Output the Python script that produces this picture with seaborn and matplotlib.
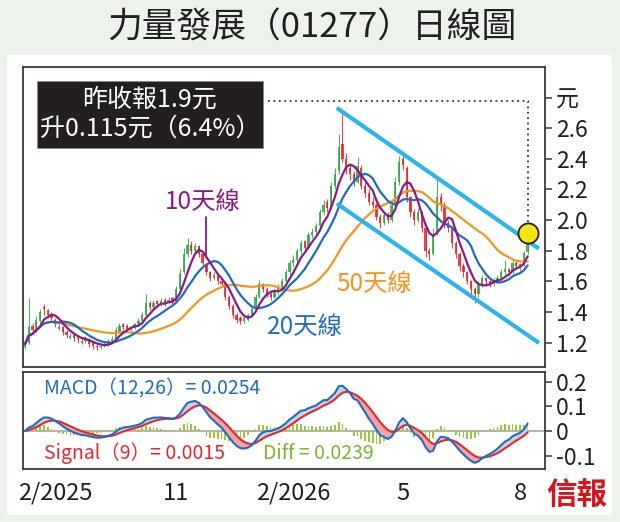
# 力量發展 (01277) daily chart with MA + MACD panel

import numpy as np
import pandas as pd
import matplotlib
matplotlib.use('Agg')
import matplotlib.pyplot as plt
import seaborn as sns
from matplotlib.patches import Rectangle

# price bars (one bar per two sessions)
open_ = [1.17, 1.20, 1.31, 1.28, 1.34, 1.43, 1.41, 1.38, 1.35, 1.29,
         1.30, 1.27, 1.23, 1.25, 1.23, 1.20, 1.21, 1.22, 1.20, 1.18,
         1.17, 1.18, 1.19, 1.21, 1.22, 1.27, 1.32, 1.31, 1.28, 1.30,
         1.32, 1.34, 1.38, 1.46, 1.43, 1.47, 1.45, 1.48, 1.46, 1.49,
         1.47, 1.55, 1.66, 1.78, 1.84, 1.80, 1.83, 1.78, 1.71, 1.66,
         1.62, 1.64, 1.60, 1.58, 1.50, 1.44, 1.38, 1.36, 1.34, 1.35,
         1.38, 1.42, 1.50, 1.58, 1.55, 1.52, 1.50, 1.54, 1.56, 1.60,
         1.66, 1.72, 1.74, 1.80, 1.86, 1.82, 1.90, 1.92, 1.96, 2.05,
         2.12, 2.08, 2.22, 2.32, 2.50, 2.40, 2.34, 2.30, 2.25, 2.34,
         2.22, 2.18, 2.12, 2.10, 2.02, 1.98, 2.03, 2.00, 2.10, 2.25,
         2.40, 2.34, 2.15, 2.05, 2.00, 2.05, 1.95, 1.80, 1.78, 1.92,
         2.15, 2.10, 1.98, 1.95, 1.85, 1.78, 1.70, 1.66, 1.60, 1.55,
         1.52, 1.58, 1.62, 1.60, 1.58, 1.60, 1.62, 1.66, 1.68, 1.66,
         1.72, 1.69, 1.72, 1.79]
high = [1.21, 1.49, 1.33, 1.37, 1.42, 1.45, 1.42, 1.40, 1.36, 1.33,
        1.31, 1.28, 1.26, 1.26, 1.24, 1.23, 1.24, 1.23, 1.21, 1.19,
        1.20, 1.21, 1.22, 1.24, 1.30, 1.33, 1.33, 1.32, 1.31, 1.33,
        1.36, 1.40, 1.52, 1.47, 1.48, 1.48, 1.49, 1.49, 1.50, 1.50,
        1.57, 1.68, 1.82, 1.88, 1.86, 1.85, 1.84, 1.79, 1.72, 1.67,
        1.66, 1.65, 1.61, 1.59, 1.51, 1.45, 1.39, 1.37, 1.38, 1.39,
        1.44, 1.52, 1.61, 1.59, 1.56, 1.53, 1.55, 1.58, 1.62, 1.68,
        1.74, 1.77, 1.82, 1.87, 1.87, 1.92, 1.95, 1.98, 2.07, 2.13,
        2.14, 2.25, 2.34, 2.56, 2.70, 2.44, 2.36, 2.32, 2.41, 2.36,
        2.25, 2.20, 2.15, 2.11, 2.04, 2.05, 2.05, 2.13, 2.28, 2.42,
        2.43, 2.35, 2.16, 2.07, 2.08, 2.06, 1.96, 1.82, 1.95, 2.28,
        2.18, 2.12, 2.00, 1.96, 1.86, 1.79, 1.72, 1.67, 1.61, 1.56,
        1.60, 1.64, 1.63, 1.61, 1.62, 1.64, 1.68, 1.74, 1.69, 1.74,
        1.73, 1.72, 1.80, 1.93]
low = [1.16, 1.19, 1.26, 1.27, 1.33, 1.38, 1.36, 1.34, 1.30, 1.28,
       1.25, 1.23, 1.22, 1.21, 1.20, 1.19, 1.20, 1.17, 1.16, 1.15,
       1.16, 1.17, 1.18, 1.20, 1.21, 1.26, 1.28, 1.27, 1.27, 1.29,
       1.31, 1.33, 1.37, 1.41, 1.42, 1.43, 1.44, 1.44, 1.45, 1.45,
       1.46, 1.54, 1.65, 1.76, 1.78, 1.79, 1.76, 1.70, 1.64, 1.60,
       1.61, 1.58, 1.56, 1.48, 1.42, 1.36, 1.33, 1.32, 1.33, 1.34,
       1.37, 1.41, 1.49, 1.53, 1.50, 1.48, 1.49, 1.52, 1.55, 1.59,
       1.64, 1.70, 1.72, 1.78, 1.80, 1.81, 1.88, 1.90, 1.95, 2.03,
       2.05, 2.07, 2.20, 2.30, 2.38, 2.30, 2.26, 2.22, 2.24, 2.20,
       2.15, 2.10, 2.08, 2.00, 1.95, 1.97, 1.98, 1.99, 2.08, 2.23,
       2.33, 2.12, 2.02, 1.97, 1.99, 1.92, 1.76, 1.74, 1.77, 1.90,
       2.06, 1.95, 1.92, 1.82, 1.75, 1.67, 1.63, 1.58, 1.52, 1.46,
       1.50, 1.56, 1.57, 1.56, 1.57, 1.59, 1.61, 1.64, 1.64, 1.65,
       1.68, 1.67, 1.70, 1.78]
close = [1.19, 1.30, 1.28, 1.35, 1.40, 1.42, 1.38, 1.36, 1.32, 1.30,
         1.27, 1.25, 1.24, 1.23, 1.22, 1.21, 1.22, 1.19, 1.18, 1.17,
         1.18, 1.19, 1.21, 1.22, 1.28, 1.31, 1.30, 1.29, 1.30, 1.32,
         1.34, 1.38, 1.46, 1.43, 1.46, 1.45, 1.47, 1.46, 1.48, 1.47,
         1.55, 1.65, 1.78, 1.84, 1.80, 1.83, 1.78, 1.72, 1.66, 1.62,
         1.64, 1.60, 1.58, 1.50, 1.44, 1.38, 1.35, 1.34, 1.36, 1.38,
         1.42, 1.50, 1.58, 1.55, 1.52, 1.50, 1.54, 1.56, 1.60, 1.66,
         1.72, 1.74, 1.80, 1.85, 1.82, 1.90, 1.92, 1.96, 2.05, 2.10,
         2.08, 2.22, 2.30, 2.48, 2.40, 2.33, 2.30, 2.25, 2.35, 2.22,
         2.18, 2.12, 2.10, 2.02, 1.98, 2.03, 2.00, 2.10, 2.25, 2.38,
         2.36, 2.15, 2.05, 2.00, 2.05, 1.95, 1.80, 1.78, 1.90, 2.15,
         2.10, 1.98, 1.95, 1.85, 1.78, 1.70, 1.66, 1.60, 1.55, 1.52,
         1.58, 1.62, 1.60, 1.58, 1.60, 1.62, 1.66, 1.68, 1.66, 1.72,
         1.70, 1.71, 1.785, 1.90]

tick_pos = [8, 40, 71, 100, 131]
tick_labels = ['2/2025', '11', '2/2026', '5', '8']
price_ticks = [1.2, 1.4, 1.6, 1.8, 2.0, 2.2, 2.4, 2.6, 2.8]
price_labels = ['1.2', '1.4', '1.6', '1.8', '2.0', '2.2', '2.4', '2.6', '元']
macd_ticks = [-0.1, 0, 0.1, 0.2]
macd_labels = ['-0.1', '0', '0.1', '0.2']

# downward channel drawn on the chart (bar index, price)
channel_x = [82.5, 136.0]
channel_upper = [2.733, 1.813]
channel_lower = [2.108, 1.197]
note_level = 2.78

df = pd.DataFrame({'open': open_, 'high': high, 'low': low, 'close': close})
df['i'] = np.arange(len(df))
# bars are two sessions wide, so 10/20/50-day MAs are 5/10/25 bars
df['ma10'] = df['close'].rolling(5, min_periods=1).mean()
df['ma20'] = df['close'].rolling(10, min_periods=1).mean()
df['ma50'] = df['close'].rolling(25, min_periods=1).mean()
ema_fast = df['close'].ewm(span=7, adjust=False).mean()
ema_slow = df['close'].ewm(span=15, adjust=False).mean()
df['macd'] = ema_fast - ema_slow
df['signal'] = df['macd'].ewm(span=6, adjust=False).mean()
df['diff'] = df['macd'] - df['signal']

sns.set_theme(style='white')
plt.rcParams['font.family'] = ['Noto Sans CJK TC', 'DejaVu Sans']
plt.rcParams['axes.unicode_minus'] = False

W, H = 620, 522
fig = plt.figure(figsize=(6.2, 5.22), dpi=100, facecolor='#edf3ec')


def fx(px):
    return px / W


def fy(py):
    return 1 - py / H


fig.add_artist(Rectangle((fx(7), fy(515)), fx(612) - fx(7), fy(55) - fy(515),
                         transform=fig.transFigure, facecolor='white',
                         edgecolor='none', zorder=-1))

ax = fig.add_axes([fx(23), fy(367), fx(545) - fx(23), fy(67) - fy(367)])
ax2 = fig.add_axes([fx(23), fy(469), fx(545) - fx(23), fy(372) - fy(469)])

RED = '#e5262c'
GREEN = '#34a845'
up = df['close'] >= df['open']
colors = np.where(up, GREEN, RED)
ax.vlines(df['i'], df['low'], df['high'], colors=colors, lw=0.8, alpha=0.85)
body = (df['close'] - df['open']).abs().clip(lower=0.006)
ax.bar(df['i'], body, bottom=df[['open', 'close']].min(axis=1), width=0.6,
       color=colors, alpha=0.85, linewidth=0)

sns.lineplot(x=df['i'], y=df['ma50'], ax=ax, color='#f7941d', lw=1.6)
sns.lineplot(x=df['i'], y=df['ma20'], ax=ax, color='#1f6cc0', lw=1.6)
sns.lineplot(x=df['i'], y=df['ma10'], ax=ax, color='#8b1a89', lw=1.6)

ax.plot(channel_x, channel_upper, color='#2bb5e8', lw=3, solid_capstyle='butt')
ax.plot(channel_x, channel_lower, color='#2bb5e8', lw=3, solid_capstyle='butt')

last = df['i'].iloc[-1]
ax.plot([64.3, last, last], [note_level, note_level, df['close'].iloc[-1] + 0.08],
        ls=(0, (1, 2)), color='#333333', lw=1.3)
ax.scatter([last], [df['close'].iloc[-1] + 0.015], s=210, color='#f4e614',
           edgecolor='#222222', lw=1.3, zorder=5)

ax.set_xlim(-0.53, 137.6)
ax.set_ylim(1.04, 3.0)
ax.set_xticks([])
ax.yaxis.tick_right()
ax.set_yticks(price_ticks)
ax.set_yticklabels(price_labels)
ax.set_xlabel('')
ax.set_ylabel('')

# labels for the moving averages
ax.text(47, 2.115, '10天線', color='#8b1a89', fontsize=17.5, ha='center', va='center')
ax.plot([48, 48], [df['ma10'].iloc[48] + 0.01, 2.02], color='#8b1a89', lw=1.3)
ax.text(74.1, 1.30, '20天線', color='#1f6cc0', fontsize=17.5, ha='center', va='center')
ax.text(92.3, 1.58, '50天線', color='#f7941d', fontsize=17.5, ha='center', va='center')

# MACD panel
ax2.axhline(0, color='#b5b5b5', lw=1.5, zorder=0)
ax2.bar(df['i'], df['diff'], width=0.45, color='#9bc93b', linewidth=0)
ax2.fill_between(df['i'], df['macd'], df['signal'], where=df['signal'] >= df['macd'],
                 interpolate=True, color='#f3a5a5', lw=0)
ax2.fill_between(df['i'], df['macd'], df['signal'], where=df['signal'] < df['macd'],
                 interpolate=True, color='#c9d2db', lw=0)
sns.lineplot(x=df['i'], y=df['signal'], ax=ax2, color='#e8262d', lw=1.5)
sns.lineplot(x=df['i'], y=df['macd'], ax=ax2, color='#1f6cc0', lw=1.5)
ax2.set_xlim(-0.53, 137.6)
ax2.set_ylim(-0.154, 0.239)
ax2.yaxis.tick_right()
ax2.set_yticks(macd_ticks)
ax2.set_yticklabels(macd_labels)
ax2.set_xticks(tick_pos)
ax2.set_xticklabels(tick_labels)
ax2.set_xlabel('')
ax2.set_ylabel('')
ax2.text(0.04, 0.83, 'MACD（12,26）= 0.0254', transform=ax2.transAxes,
         color='#1f6cc0', fontsize=14, va='center')
ax2.text(0.04, 0.16, 'Signal（9）= 0.0015', transform=ax2.transAxes,
         color='#e8262d', fontsize=14, va='center')
ax2.text(0.46, 0.16, 'Diff = 0.0239', transform=ax2.transAxes,
         color='#7cb82f', fontsize=14, va='center')

for a in (ax, ax2):
    for s in a.spines.values():
        s.set_visible(True)
        s.set_color('#3a3a3a')
        s.set_linewidth(1.3)
    a.tick_params(axis='both', direction='out', length=5, width=1.1,
                  color='#3a3a3a', labelsize=16.5, labelcolor='#231f20', pad=3)
ax2.tick_params(axis='x', pad=4, labelsize=17)

# quote box
fig.add_artist(Rectangle((fx(37), fy(148)), fx(263) - fx(37), fy(81) - fy(148),
                         transform=fig.transFigure, facecolor='#231f20',
                         edgecolor='#888888', lw=0.6, zorder=5))
fig.text(fx(150), fy(100), '昨收報1.9元', color='white', fontsize=18,
         ha='center', va='center', zorder=6)
fig.text(fx(150), fy(129), '升0.115元（6.4%）', color='white', fontsize=18,
         ha='center', va='center', zorder=6)

fig.text(fx(312), fy(28), '力量發展（01277）日線圖', color='#231f20', fontsize=25,
         ha='center', va='center')
fig.text(fx(577), fy(495), '信報', color='#d7141a', fontsize=22, fontweight='bold',
         ha='center', va='center')

fig.savefig('out.png', dpi=100, facecolor=fig.get_facecolor())
